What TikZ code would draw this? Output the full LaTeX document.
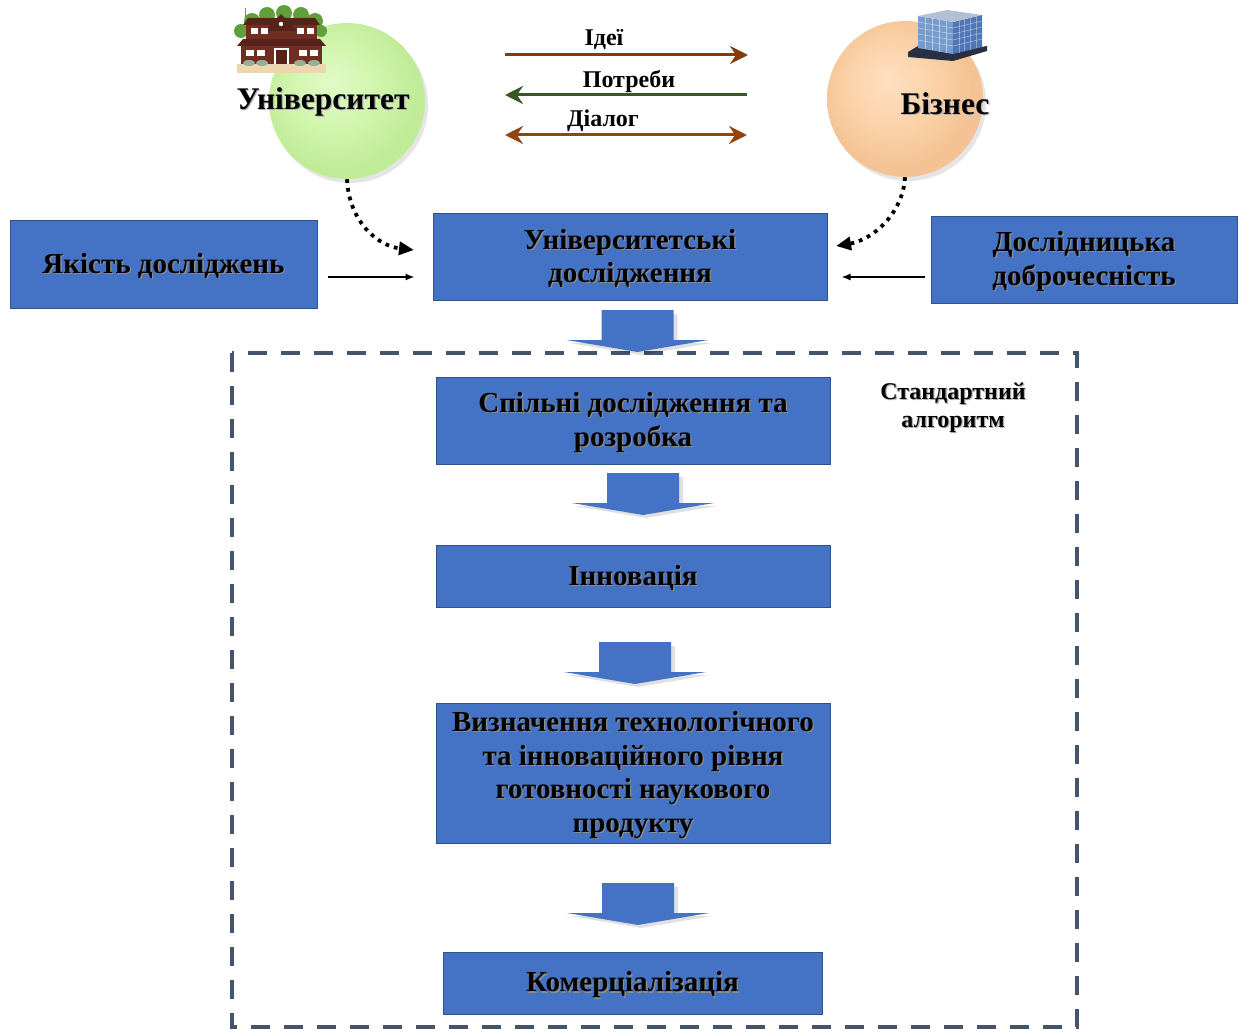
\documentclass[tikz,border=0pt]{standalone}
\usepackage{fontspec}
\setmainfont{Liberation Serif}
\usetikzlibrary{arrows.meta,calc}

\definecolor{boxblue}{HTML}{4472C4}
\definecolor{boxline}{HTML}{2F528F}
\definecolor{frameslate}{HTML}{44546A}
\definecolor{ideabrown}{HTML}{843C0C}
\definecolor{dialogbrown}{HTML}{94450F}
\definecolor{needgreen}{HTML}{385723}
\definecolor{gIn}{RGB}{224,251,200}
\definecolor{gMid}{RGB}{208,245,172}
\definecolor{gOut}{RGB}{192,236,152}
\definecolor{pIn}{RGB}{253,224,192}
\definecolor{pMid}{RGB}{251,210,168}
\definecolor{pOut}{RGB}{244,194,148}
\definecolor{bushgreen}{RGB}{96,160,58}
\definecolor{brick}{RGB}{112,46,34}
\definecolor{roofbrown}{RGB}{86,34,26}
\definecolor{sand}{RGB}{236,214,176}
\definecolor{shrub}{RGB}{150,175,150}
\definecolor{glassL}{RGB}{120,155,205}
\definecolor{glassR}{RGB}{80,118,182}
\definecolor{glassT}{RGB}{178,192,214}
\definecolor{slab}{RGB}{40,48,66}

\pgfdeclareradialshading{greenball}{\pgfpoint{-6bp}{6bp}}{color(0bp)=(gIn); color(14bp)=(gMid); color(25bp)=(gOut); color(50bp)=(gOut)}
\pgfdeclareradialshading{peachball}{\pgfpoint{-6bp}{6bp}}{color(0bp)=(pIn); color(14bp)=(pMid); color(25bp)=(pOut); color(50bp)=(pOut)}

\newcommand\txtsize[2]{\fontsize{#1}{#2}\selectfont\bfseries}
% text with a soft dark shadow below right, set a little lower than its line
\newcommand\shd[2][black!45]{\raisebox{-2.5pt}[\height][\depth]{\rlap{\kern1.3pt\raisebox{-1.3pt}{\textcolor{#1}{#2}}}#2}}

\tikzset{
  bluebox/.style={rectangle, draw=boxline, line width=1pt, fill=boxblue,
    inner sep=0pt, align=center, font=\txtsize{29}{33.5}},
  ball/.style={circle, minimum size=156pt, inner sep=0pt,
    preaction={fill=black, opacity=.10, transform canvas={shift={(3pt,-4pt)}}}},
  bigword/.style={inner sep=0pt, font=\txtsize{31.5}{34}},
  flowlabel/.style={inner sep=0pt, font=\txtsize{24}{26}},
  flowline/.style={line width=3pt, line cap=butt},
  fatdots/.style={line width=3.8pt, dash pattern=on 3.8pt off 5pt,
    -{Triangle[length=15pt,width=13pt]}},
  thinarrow/.style={line width=1.3pt, -{Latex[length=9pt,width=7pt]}},
  blockdown/.pic={
    \fill[black, opacity=.12] (-32,4) -- (40,4) -- (40,33) -- (74,33) -- (3,45) -- (-68,33) -- (-32,33) -- cycle;
    \fill[boxblue] (-36,0) -- (36,0) -- (36,30) -- (71,30) -- (0,42) -- (-71,30) -- (-36,30) -- cycle;
  }
}

\begin{document}
\begin{tikzpicture}[x=1pt, y=-1pt]
\useasboundingbox (0,0) rectangle (1242,1030);

% dashed frame of the standard algorithm
\draw[frameslate, line width=4pt, dash pattern=on 19pt off 14pt] (232,353) rectangle (1077,1027);

% partners
\node[ball, shading=greenball] (ucirc) at (347,101) {};
\node[ball, shading=peachball] (bcirc) at (905,99) {};

% school building
\begin{scope}
  \draw[gray, line width=1pt] (245,17) -- (245,8);
  \foreach \cx/\cy/\r in {241/31/7, 252/21/8, 267/15/8, 284/13/8, 301/15/8, 315/21/8, 321/31/6}
    \fill[bushgreen] (\cx,\cy) circle (\r);
  \fill[roofbrown] (243,25) -- (248,18) -- (315,18) -- (320,25) -- cycle;
  \fill[brick] (246,25) rectangle (317,42);
  \fill[roofbrown] (265,31) -- (281,14) -- (297,31) -- cycle;
  \fill[white] (281,24) circle (2.2);
  \fill[roofbrown] (237,46) -- (243,39) -- (320,39) -- (326,46) -- cycle;
  \fill[brick] (241,46) rectangle (322,64);
  \foreach \wx in {251,261,297,307}
    \fill[white] (\wx,28) rectangle ++(7,6);
  \foreach \wx in {246,257,299,310}
    \fill[white] (\wx,50) rectangle ++(8,6);
  \fill[white] (274,48) rectangle (289,64);
  \fill[roofbrown] (276,50) rectangle (287,64);
  \fill[sand] (237,64) rectangle (326,73);
  \foreach \sx in {249,262,300,314}
    \fill[shrub] (\sx,63) ellipse (6 and 3);
\end{scope}

% office building
\begin{scope}
  \fill[slab] (908,52) -- (918,46) -- (953,52) -- (987,46) -- (987,51) -- (953,61) -- (908,57) -- cycle;
  \fill[glassL] (918,16) -- (953,22) -- (953,54) -- (918,48) -- cycle;
  \fill[glassR] (953,22) -- (982,15) -- (982,47) -- (953,54) -- cycle;
  \fill[glassT] (918,16) -- (947,10) -- (982,15) -- (953,22) -- cycle;
  \foreach \t in {0.2,0.4,0.6,0.8}{
    \draw[white, opacity=.45, line width=.6pt] ($(918,16)!\t!(953,22)$) -- ++(0,32);
    \draw[white, opacity=.35, line width=.6pt] ($(953,22)!\t!(982,15)$) -- ++(0,32);
  }
  \foreach \h in {6,12,18,24}{
    \draw[white, opacity=.45, line width=.6pt] (918,16+\h) -- (953,22+\h) -- (982,15+\h);
  }
\end{scope}

\node[bigword] (utext) at (323,100) {\shd[black!30]{Університет}};
\node[bigword] (btext) at (945,101.5) {\shd[black!30]{Бізнес}};

% exchange between university and business
\node[flowlabel] (lidea) at (604,40) {Ідеї};
\node[flowlabel] (lneed) at (629,81) {Потреби};
\node[flowlabel] (ldial) at (603,121) {Діалог};
\coordinate (ideaL) at (505,55);  \coordinate (ideaR) at (748,55);
\coordinate (needL) at (505,95);  \coordinate (needR) at (747,95);
\coordinate (dialL) at (505,135); \coordinate (dialR) at (747,135);
\draw[flowline, ideabrown, -{Stealth[length=18pt,width=18pt,inset=6pt]}] (ideaL) -- (ideaR);
\draw[flowline, needgreen, -{Stealth[length=18pt,width=18pt,inset=6pt]}] (needR) -- (needL);
\draw[flowline, dialogbrown, {Stealth[length=18pt,width=18pt,inset=6pt]}-{Stealth[length=18pt,width=18pt,inset=6pt]}] (dialL) -- (dialR);

% research row
\node[bluebox, minimum width=394pt, minimum height=87pt] (ures) at (630,256.5) {\shd{Університетські}\\\shd{дослідження}};
\node[bluebox, minimum width=307pt, minimum height=88pt] (qual) at (163.5,264) {\shd{Якість досліджень}};
\node[bluebox, minimum width=306pt, minimum height=87pt] (integ) at (1084,259.5) {\shd{Дослідницька}\\\shd{доброчесність}};

\coordinate (dotL) at (414,250);
\coordinate (dotR) at (836,246);
\draw[fatdots] (ucirc.south) .. controls (349,222) and (378,246) .. (dotL);
\draw[fatdots] (bcirc.south) .. controls (903,214) and (872,240) .. (dotR);

\draw[thinarrow] ([shift={(10,13)}]qual.east) -- ([shift={(-18,20.5)}]ures.west);
\draw[thinarrow] ([shift={(-6,17.5)}]integ.west) -- ([shift={(14,20.5)}]ures.east);

% standard algorithm
\node[inner sep=0pt, align=center, font=\txtsize{24}{28}] (stdalg) at (953,406) {\shd[black!30]{Стандартний}\\\shd[black!30]{алгоритм}};

\node[bluebox, minimum width=394pt, minimum height=87pt] (joint) at (633,420.5) {\shd{Спільні дослідження та}\\\shd{розробка}};
\node[bluebox, minimum width=394pt, minimum height=62pt] (innov) at (633,576) {\shd{Інновація}};
\node[bluebox, minimum width=394pt, minimum height=140pt] (trl) at (633,773) {\shd{Визначення технологічного}\\\shd{та інноваційного рівня}\\\shd{готовності наукового}\\\shd{продукту}};
\node[bluebox, minimum width=379pt, minimum height=62pt] (comm) at (632.5,983) {\shd{Комерціалізація}};

\pic (step1) at (637.5,310) {blockdown};
\pic (step2) at (643,473) {blockdown};
\pic (step3) at (635,642) {blockdown};
\pic (step4) at (638,883) {blockdown};

\end{tikzpicture}
\end{document}
